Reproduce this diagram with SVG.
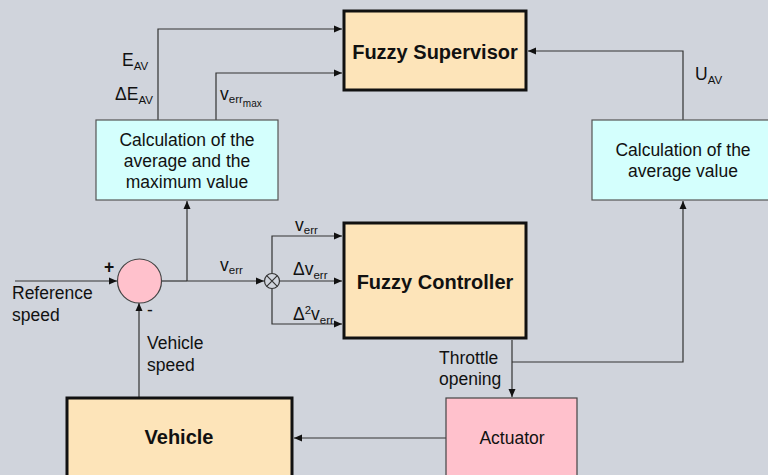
<svg xmlns="http://www.w3.org/2000/svg" width="768" height="475" viewBox="0 0 768 475">
<defs>
<marker id="arr" markerUnits="userSpaceOnUse" markerWidth="9" markerHeight="8" refX="8" refY="4" orient="auto">
<path d="M0,0.5 L8,4 L0,7.5 Z" fill="#111"/>
</marker>
<style>
.bg{fill:#d0d4dc}
.big{fill:#fde4b9;stroke:#111;stroke-width:3}
.calc{fill:#d4fffd;stroke:#555;stroke-width:1.2}
.pink{fill:#ffc1cc;stroke:#444;stroke-width:1.2}
.ln{fill:none;stroke:#333;stroke-width:1.2}
.ar{fill:none;stroke:#333;stroke-width:1.2;marker-end:url(#arr)}
text{font-family:"Liberation Sans",Arial,sans-serif;fill:#111}
.t{font-size:17.5px}
.b{font-size:20px;font-weight:bold}
.s{font-size:11.5px}
.ss{font-size:10px}
.m{text-anchor:middle}
</style>
</defs>
<rect class="bg" x="0" y="0" width="768" height="475"/>

<g id="connectors">
<polyline class="ar" points="158,120 158,29 342,29"/>
<polyline class="ar" points="216,120 216,73 342,73"/>
<polyline class="ar" points="683,120 683,51 528,51"/>
<line class="ar" x1="15" y1="281" x2="117" y2="281"/>
<line class="ln" x1="161.5" y1="281" x2="187" y2="281"/>
<line class="ar" x1="187" y1="281" x2="187" y2="201"/>
<line class="ar" x1="187" y1="281" x2="264" y2="281"/>
<polyline class="ar" points="272,273.5 272,236 342,236"/>
<line class="ar" x1="279.5" y1="281" x2="342" y2="281"/>
<polyline class="ar" points="272,288.5 272,324 342,324"/>
<line class="ar" x1="512" y1="340" x2="512" y2="397"/>
<polyline class="ar" points="512,362 683,362 683,201"/>
<line class="ar" x1="446" y1="438" x2="294" y2="438"/>
<line class="ar" x1="139" y1="397" x2="139" y2="303"/>
</g>

<g id="fuzzy-supervisor">
<rect class="big" x="344" y="11" width="182" height="79"/>
<text class="b m" x="435" y="59">Fuzzy Supervisor</text>
</g>

<g id="calc-avg-max">
<rect class="calc" x="96" y="120" width="182" height="80"/>
<text class="t m" x="187" y="146">Calculation of the</text>
<text class="t m" x="187" y="167">average and the</text>
<text class="t m" x="187" y="188">maximum value</text>
</g>

<g id="calc-avg">
<rect class="calc" x="592" y="120" width="182" height="80"/>
<text class="t m" x="683" y="156">Calculation of the</text>
<text class="t m" x="683" y="177">average value</text>
</g>

<g id="sum">
<circle class="pink" cx="139.5" cy="281" r="22"/>
</g>

<g id="mult">
<circle fill="#d0d4dc" stroke="#333" stroke-width="1.2" cx="272" cy="281" r="7.5"/>
<path d="M266.7,275.7 L277.3,286.3 M277.3,275.7 L266.7,286.3" stroke="#333" stroke-width="1.2"/>
</g>

<g id="fuzzy-controller">
<rect class="big" x="344" y="223" width="182" height="115"/>
<text class="b m" x="435" y="289">Fuzzy Controller</text>
</g>

<g id="vehicle">
<rect class="big" x="67" y="398" width="225" height="90"/>
<text class="b m" x="179" y="444">Vehicle</text>
</g>

<g id="actuator">
<rect class="pink" x="446" y="398" width="131" height="90"/>
<text class="t m" x="512" y="444">Actuator</text>
</g>

<g id="labels">
<text class="t" x="122" y="66">E<tspan class="s" dy="4">AV</tspan></text>
<text class="t" x="115" y="100">ΔE<tspan class="s" dy="4">AV</tspan></text>
<text class="t" x="220" y="100">v<tspan class="s" dy="3">err</tspan><tspan class="ss" dy="4">max</tspan></text>
<text class="t" x="695" y="80">U<tspan class="s" dy="4">AV</tspan></text>
<text class="t" x="220" y="271">v<tspan class="s" dy="3">err</tspan></text>
<text class="t" x="295" y="231">v<tspan class="s" dy="3">err</tspan></text>
<text class="t" x="293" y="275">Δv<tspan class="s" dy="4">err</tspan></text>
<text class="t" x="293" y="320">Δ<tspan class="s" dy="-6">2</tspan><tspan dy="6">v</tspan><tspan class="s" dy="4">err</tspan></text>
<text class="t" x="104" y="273" font-size="20" font-weight="bold">+</text>
<text class="t" x="147" y="316">-</text>
<text class="t" x="12" y="299">Reference</text>
<text class="t" x="12" y="321">speed</text>
<text class="t" x="147" y="349">Vehicle</text>
<text class="t" x="147" y="371">speed</text>
<text class="t" x="439" y="364">Throttle</text>
<text class="t" x="439" y="385">opening</text>
</g>
</svg>
